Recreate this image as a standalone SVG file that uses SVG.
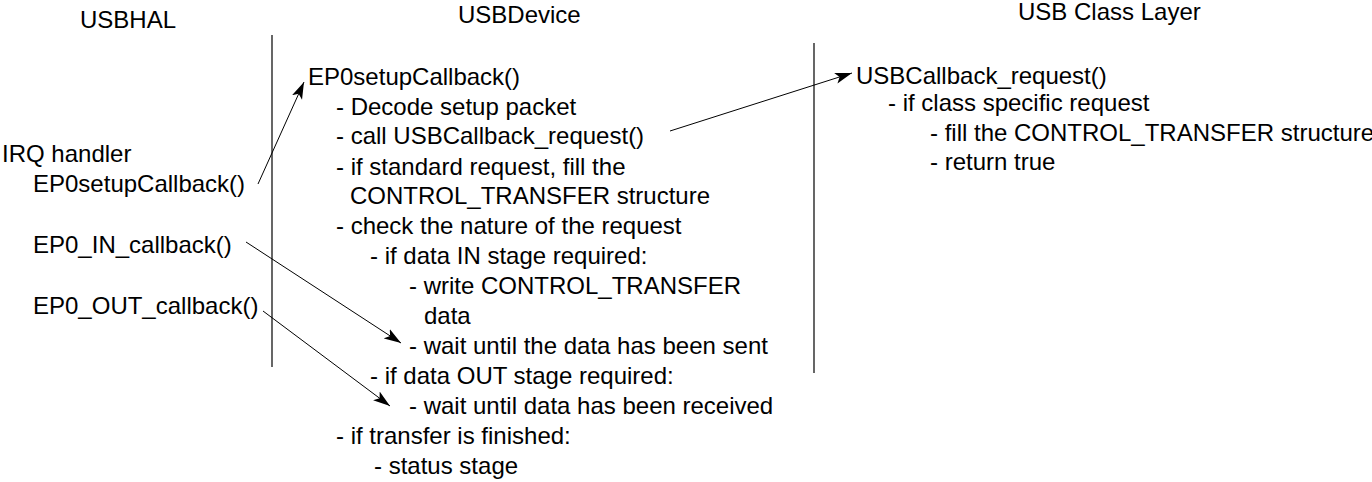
<svg xmlns="http://www.w3.org/2000/svg" width="1372" height="482" viewBox="0 0 1372 482">
<style>
text{font-family:"Liberation Sans",Arial,sans-serif;font-size:24px;fill:#000}
.lane{stroke:#000;stroke-width:1.2;fill:none}
.conn{stroke:#000;stroke-width:1;fill:none;marker-end:url(#ah)}
</style>
<defs>
<marker id="ah" markerWidth="18" markerHeight="12" refX="17" refY="6" orient="auto" markerUnits="userSpaceOnUse">
<path d="M0,0.5 L17,6 L0,11.5 L4,6 z" fill="#000"/>
</marker>
</defs>
<rect width="1372" height="482" fill="#fff"/>
<g id="lanes">
<line class="lane" x1="272" y1="35" x2="272" y2="367"/>
<line class="lane" x1="814" y1="43" x2="814" y2="373"/>
</g>
<g id="usbhal">
<text x="80" y="28">USBHAL</text>
<text x="2" y="162">IRQ handler</text>
<text x="33" y="192">EP0setupCallback()</text>
<text x="33" y="253">EP0_IN_callback()</text>
<text x="33" y="314">EP0_OUT_callback()</text>
</g>
<g id="usbdevice">
<text x="458" y="23">USBDevice</text>
<text x="308" y="85">EP0setupCallback()</text>
<text x="336" y="115">- Decode setup packet</text>
<text x="336" y="144">- call USBCallback_request()</text>
<text x="336" y="175">- if standard request, fill the</text>
<text x="350" y="204">CONTROL_TRANSFER structure</text>
<text x="336" y="234">- check the nature of the request</text>
<text x="370" y="264">- if data IN stage required:</text>
<text x="409" y="294">- write CONTROL_TRANSFER</text>
<text x="424" y="324">data</text>
<text x="409" y="354">- wait until the data has been sent</text>
<text x="370" y="384">- if data OUT stage required:</text>
<text x="409" y="414">- wait until data has been received</text>
<text x="336" y="444">- if transfer is finished:</text>
<text x="374" y="474">- status stage</text>
</g>
<g id="usbclass">
<text x="1018" y="20">USB Class Layer</text>
<text x="856" y="84">USBCallback_request()</text>
<text x="888" y="111">- if class specific request</text>
<text x="930" y="141">- fill the CONTROL_TRANSFER structure</text>
<text x="930" y="170">- return true</text>
</g>
<g id="connectors">
<line class="conn" x1="258" y1="184" x2="304" y2="82"/>
<line class="conn" x1="670" y1="131" x2="852" y2="73"/>
<line class="conn" x1="246" y1="242" x2="401" y2="343"/>
<line class="conn" x1="263" y1="311" x2="390" y2="406"/>
</g>
</svg>
